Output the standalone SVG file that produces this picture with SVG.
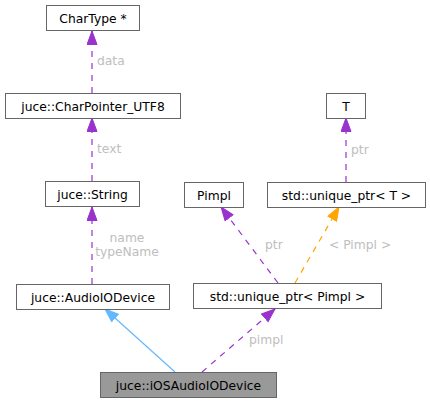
<svg xmlns="http://www.w3.org/2000/svg" width="430" height="403" viewBox="0 0 430 403">
<style>
.box{fill:#ffffff;stroke:#666666;stroke-width:1}
.hl{fill:#999999;stroke:#666666;stroke-width:1}
text{font-family:"DejaVu Sans","Liberation Sans",sans-serif;font-size:12.3px}
.nt{fill:#000000;text-anchor:middle}
.lbl{fill:#bebebe}
.dp{fill:none;stroke:#9a32cd;stroke-width:1.2;stroke-dasharray:6,6}
.do{fill:none;stroke:#ffa500;stroke-width:1.2;stroke-dasharray:6,6}
.sb{fill:none;stroke:#63b8ff;stroke-width:1.2}
</style>
<defs>
<marker id="ap" markerUnits="userSpaceOnUse" markerWidth="15" markerHeight="12" refX="14" refY="5.5" orient="auto"><path d="M0.5,0.5 L14,5.5 L0.5,10.5 Z" fill="#9a32cd" stroke="#9a32cd"/></marker>
<marker id="ao" markerUnits="userSpaceOnUse" markerWidth="15" markerHeight="12" refX="14" refY="5.5" orient="auto"><path d="M0.5,0.5 L14,5.5 L0.5,10.5 Z" fill="#ffa500" stroke="#ffa500"/></marker>
<marker id="ab" markerUnits="userSpaceOnUse" markerWidth="15" markerHeight="12" refX="14" refY="5.5" orient="auto"><path d="M0.5,0.5 L14,5.5 L0.5,10.5 Z" fill="#63b8ff" stroke="#63b8ff"/></marker>
</defs>
<g id="edges">
<line class="dp" x1="92" y1="93" x2="92" y2="31" marker-end="url(#ap)"/>
<text class="lbl" x="97" y="65">data</text>
<line class="dp" x1="92" y1="181" x2="92" y2="118" marker-end="url(#ap)"/>
<text class="lbl" x="97" y="153">text</text>
<line class="dp" x1="92" y1="284" x2="92" y2="207" marker-end="url(#ap)"/>
<text class="lbl" x="127" y="242" text-anchor="middle">name</text>
<text class="lbl" x="127" y="256" text-anchor="middle">typeName</text>
<line class="sb" x1="175" y1="372" x2="105" y2="309" marker-end="url(#ab)"/>
<line class="dp" x1="202" y1="372" x2="275" y2="309" marker-end="url(#ap)"/>
<text class="lbl" x="249" y="344">pimpl</text>
<line class="dp" x1="278" y1="283" x2="221" y2="207" marker-end="url(#ap)"/>
<text class="lbl" x="265" y="249">ptr</text>
<line class="do" x1="295" y1="283" x2="339" y2="207" marker-end="url(#ao)"/>
<text class="lbl" x="329" y="249">&lt; Pimpl &gt;</text>
<line class="dp" x1="346" y1="182" x2="346" y2="118" marker-end="url(#ap)"/>
<text class="lbl" x="351" y="154">ptr</text>
</g>
<g id="node-chartype"><rect class="box" x="46.5" y="5.5" width="93" height="25"/><text class="nt" x="93" y="22.5">CharType *</text></g>
<g id="node-charpointer"><rect class="box" x="5.5" y="93.5" width="175" height="25"/><text class="nt" x="93" y="110.5">juce::CharPointer_UTF8</text></g>
<g id="node-string"><rect class="box" x="45.5" y="181.5" width="94" height="25"/><text class="nt" x="92.5" y="198.5">juce::String</text></g>
<g id="node-audioiodevice"><rect class="box" x="16.5" y="284.5" width="153" height="25"/><text class="nt" x="93" y="301.5">juce::AudioIODevice</text></g>
<g id="node-ios"><rect class="hl" x="100.5" y="372.5" width="176" height="25"/><text class="nt" x="188.5" y="389.5">juce::iOSAudioIODevice</text></g>
<g id="node-pimpl"><rect class="box" x="184.5" y="182.5" width="59" height="25"/><text class="nt" x="214" y="199.5">Pimpl</text></g>
<g id="node-uniqueT"><rect class="box" x="267.5" y="182.5" width="158" height="25"/><text class="nt" x="346.5" y="199.5">std::unique_ptr&lt; T &gt;</text></g>
<g id="node-T"><rect class="box" x="326.5" y="93.5" width="39" height="25"/><text class="nt" x="346" y="110.5">T</text></g>
<g id="node-uniquePimpl"><rect class="box" x="193.5" y="283.5" width="188" height="25"/><text class="nt" x="287.5" y="300.5">std::unique_ptr&lt; Pimpl &gt;</text></g>
</svg>
